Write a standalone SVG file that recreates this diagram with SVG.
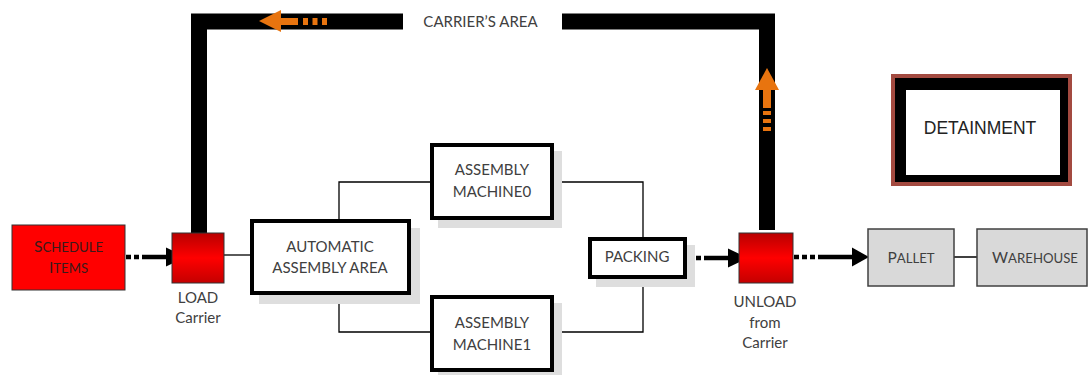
<svg xmlns="http://www.w3.org/2000/svg" width="1089" height="375" viewBox="0 0 1089 375">
<style>
.t{font-family:Lato,"Liberation Sans",sans-serif;fill:#404040;text-anchor:middle;font-size:15px}
.box{fill:#fff;stroke:#000;stroke-width:4}
.sh{fill:#dedede}
.thin{fill:none;stroke:#000;stroke-width:1.3}
.dot{fill:none;stroke:#000;stroke-width:4.5;stroke-dasharray:5 3}
.sol{fill:none;stroke:#000;stroke-width:4.5}
.grey{fill:#d9d9d9;stroke:#404040;stroke-width:1.5}
.or{fill:#e8740f}
</style>
<defs>
<linearGradient id="rg" x1="0" y1="0" x2="0" y2="1">
<stop offset="0" stop-color="#b80000"/>
<stop offset="0.5" stop-color="#ff0000"/>
<stop offset="1" stop-color="#c40000"/>
</linearGradient>
</defs>

<g id="carrier-area">
<path d="M199 233 V21.5 H403 M562 21.5 H767 V230" fill="none" stroke="#000" stroke-width="16"/>
<text class="t" x="480.5" y="27">CARRIER’S AREA</text>
<polygon class="or" points="259,21 281,10 281,32"/>
<rect class="or" x="280" y="18" width="18" height="7"/>
<rect class="or" x="303" y="18" width="5" height="7"/>
<rect class="or" x="312.5" y="18" width="5" height="7"/>
<rect class="or" x="322" y="18" width="5" height="7"/>
<polygon class="or" points="767,68 755,90 779,90"/>
<rect class="or" x="763" y="89" width="8" height="19"/>
<rect class="or" x="763" y="111" width="8" height="4"/>
<rect class="or" x="763" y="119" width="8" height="4"/>
<rect class="or" x="763" y="127" width="8" height="4"/>
</g>

<g id="connectors">
<path class="thin" d="M224 255 H250"/>
<path class="thin" d="M339 219 V182 H430"/>
<path class="thin" d="M339 295 V332 H430"/>
<path class="thin" d="M554 182 H643 V237"/>
<path class="thin" d="M643 279 V332 H554"/>
<path d="M954 257 H977" stroke="#404040" stroke-width="2"/>
<path class="dot" d="M126 257 H145"/>
<path class="sol" d="M145 257 H168"/>
<polygon points="186,257 166,247.5 166,266.5"/>
<path class="dot" d="M688 258 H706"/>
<path class="sol" d="M706 258 H730"/>
<polygon points="748,258 728,248.5 728,267.5"/>
<path class="dot" d="M794 257 H818"/>
<path class="sol" d="M818 257 H855"/>
<polygon points="869,257 852,247.5 852,266.5"/>
</g>

<g id="schedule-items">
<rect x="12" y="225" width="113" height="65" fill="#ff0000" stroke="#333" stroke-width="1"/>
<text class="t" x="68.5" y="252" style="fill:#3a1a1a"><tspan font-size="15.5">S</tspan><tspan font-size="13.2">CHEDULE</tspan></text>
<text class="t" x="68.5" y="273" style="fill:#3a1a1a"><tspan font-size="15.5">I</tspan><tspan font-size="13.2">TEMS</tspan></text>
</g>

<g id="load-carrier">
<rect x="172" y="233" width="52" height="50" fill="url(#rg)" stroke="#333" stroke-width="1"/>
<text class="t" x="198" y="303" font-size="14">LOAD</text>
<text class="t" x="198" y="323" font-size="14">Carrier</text>
</g>

<g id="automatic-assembly-area">
<rect class="sh" x="259" y="228" width="161" height="76"/>
<rect class="box" x="252" y="221" width="157" height="72"/>
<text class="t" x="330" y="252">AUTOMATIC</text>
<text class="t" x="330" y="273">ASSEMBLY AREA</text>
</g>

<g id="assembly-machine0">
<rect class="sh" x="438" y="151" width="124" height="77"/>
<rect class="box" x="432" y="145" width="120" height="73"/>
<text class="t" x="492" y="175">ASSEMBLY</text>
<text class="t" x="492" y="197">MACHINE0</text>
</g>

<g id="assembly-machine1">
<rect class="sh" x="438" y="303" width="124" height="77"/>
<rect class="box" x="432" y="297" width="120" height="73"/>
<text class="t" x="492" y="328">ASSEMBLY</text>
<text class="t" x="492" y="350">MACHINE1</text>
</g>

<g id="packing">
<rect class="sh" x="596" y="245" width="99" height="42"/>
<rect class="box" x="590" y="239" width="95" height="38"/>
<text class="t" x="637" y="262">PACKING</text>
</g>

<g id="unload-from-carrier">
<rect x="739" y="233" width="54" height="50" fill="url(#rg)" stroke="#333" stroke-width="1"/>
<text class="t" x="765" y="307" font-size="14">UNLOAD</text>
<text class="t" x="765" y="328" font-size="14">from</text>
<text class="t" x="765" y="348" font-size="14">Carrier</text>
</g>

<g id="pallet">
<rect class="grey" x="868" y="229" width="86" height="57"/>
<text class="t" x="911" y="263"><tspan font-size="15.5">P</tspan><tspan font-size="13.2">ALLET</tspan></text>
</g>

<g id="warehouse">
<rect class="grey" x="977" y="229" width="110" height="57"/>
<text class="t" x="1035" y="263"><tspan font-size="15.5">W</tspan><tspan font-size="13.2">AREHOUSE</tspan></text>
</g>

<g id="detainment">
<rect x="891" y="74" width="181" height="112" fill="#a34a40"/>
<rect x="895" y="78" width="173" height="104" fill="#000"/>
<rect x="906" y="90" width="154" height="85" fill="#fff"/>
<text x="980" y="134" text-anchor="middle" font-family="Liberation Sans, Arial, sans-serif" font-size="17.5" fill="#222">DETAINMENT</text>
</g>
</svg>
